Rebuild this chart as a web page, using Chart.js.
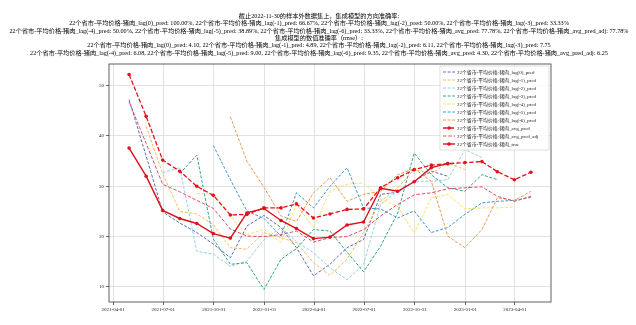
<!DOCTYPE html>
<html>
<head>
<meta charset="utf-8">
<script src="https://cdn.jsdelivr.net/npm/chart.js@4.4.0/dist/chart.umd.min.js"></script>
<style>
  html, body { margin: 0; padding: 0; background: #fff; }
  #wrap { width: 636px; height: 325px; }
</style>
</head>
<body>
<div id="wrap"><canvas id="chart" width="636" height="325"></canvas></div>
<script>
/* 22个省市-平均价格-猪肉 : lag 模型预测 vs 真实值 */

const FONT = "'Liberation Serif', 'Noto Sans CJK SC', serif";
const NAME = '22个省市-平均价格-猪肉';

// month-end dates of the sample
const dates = [
  '2021-04-30', '2021-05-31', '2021-06-30', '2021-07-31', '2021-08-31', '2021-09-30',
  '2021-10-31', '2021-11-30', '2021-12-31', '2022-01-31', '2022-02-28', '2022-03-31',
  '2022-04-30', '2022-05-31', '2022-06-30', '2022-07-31', '2022-08-31', '2022-09-30',
  '2022-10-31', '2022-11-30', '2022-12-31', '2023-01-31', '2023-02-28', '2023-03-31',
  '2023-04-30'
];

const xTickLabels = [
  '2021-04-01', '2021-07-01', '2021-10-01', '2022-01-01', '2022-04-01',
  '2022-07-01', '2022-10-01', '2023-01-01', '2023-04-01'
];
const yTicks = [10, 20, 30, 40, 50];

// each lag series starts one month later than the previous one
const lag0Pred = [47.2, 36.0, 24.9, 22.7, 20.8, 18.5, 15.8, 22.1, 24.2, 21.8, 17.8, 12.2, 14.5, 17.8, 19.4, 28.4, 28.8, 31.0, 33.0, 32.0];
const lag1Pred = [41.9, 32.5, 25.0, 24.5, 22.4, 17.8, 17.5, 20.8, 19.8, 18.8, 14.8, 12.3, 15.5, 20.8, 27.0, 29.7, 33.3, 32.5, 34.7, 33.3];
const lag2Pred = [32.7, 33.7, 17.1, 16.5, 14.1, 15.1, 19.4, 21.8, 19.0, 16.8, 13.8, 11.4, 14.5, 26.4, 29.0, 31.0, 31.0, 31.3, 37.3, 35.7];
const lag3Pred = [32.5, 36.2, 19.5, 14.5, 14.8, 9.5, 15.5, 17.6, 21.4, 21.1, 16.9, 13.0, 18.1, 24.7, 36.6, 32.3, 29.7, 29.0, 32.3, 31.3];
const lag4Pred = [28.6, 28.4, 24.1, 20.4, 21.4, 18.8, 26.4, 21.8, 29.0, 30.4, 30.7, 27.4, 26.0, 20.6, 27.7, 28.4, 25.5, 25.7, 25.7, 25.9];
const lag5Pred = [38.1, 31.3, 25.1, 23.6, 20.1, 28.7, 25.7, 30.0, 33.7, 25.7, 25.5, 23.7, 25.1, 20.8, 21.8, 24.4, 26.7, 27.0, 27.2, 27.8];
const lag6Pred = [43.8, 35.0, 29.8, 24.1, 23.0, 28.7, 31.7, 27.0, 28.4, 29.0, 32.3, 33.5, 31.0, 20.1, 17.8, 21.4, 27.7, 27.2, 29.0];
const avgPred = [52.2, 43.9, 35.2, 33.0, 30.0, 28.2, 24.3, 24.4, 25.7, 25.7, 26.5, 23.7, 24.5, 25.4, 25.5, 29.7, 31.7, 33.3, 34.2, 34.5, 34.7, 34.9, 32.9, 31.3, 32.8];
const avgPredAdj = [46.8, 38.5, 30.4, 28.9, 27.2, 25.6, 21.5, 20.1, 20.0, 20.4, 21.1, 18.9, 19.8, 20.0, 21.4, 24.1, 26.4, 28.3, 28.7, 29.5, 29.7, 29.9, 28.0, 27.0, 28.0];
const trueVals = [37.6, 32.0, 25.2, 23.6, 22.6, 20.6, 19.7, 24.7, 25.6, 23.2, 21.6, 19.6, 19.9, 22.3, 22.9, 29.6, 29.0, 30.9, 33.7, 34.5];

const titleLines = [
  '截止2022-11-30的样本外数据集上，集成模型的方向准确率:',
  NAME + '_lag(0)_pred: 100.00%, ' + NAME + '_lag(-1)_pred: 66.67%, ' + NAME + '_lag(-2)_pred: 50.00%, ' + NAME + '_lag(-3)_pred: 33.33%',
  NAME + '_lag(-4)_pred: 50.00%, ' + NAME + '_lag(-5)_pred: 38.89%, ' + NAME + '_lag(-6)_pred: 33.33%, ' + NAME + '_avg_pred: 77.78%, ' + NAME + '_avg_pred_adj: 77.78%',
  '集成模型的数值准确率（rmse）:',
  NAME + '_lag(0)_pred: 4.10, ' + NAME + '_lag(-1)_pred: 4.89, ' + NAME + '_lag(-2)_pred: 6.11, ' + NAME + '_lag(-3)_pred: 7.75',
  NAME + '_lag(-4)_pred: 6.08, ' + NAME + '_lag(-5)_pred: 9.00, ' + NAME + '_lag(-6)_pred: 9.35, ' + NAME + '_avg_pred: 4.30, ' + NAME + '_avg_pred_adj: 6.25'
];

const DAY = 86400000;
const toX = s => Date.parse(s + 'T00:00:00Z') / DAY;

function series(values, start) {
  return values.map((v, i) => ({ x: toX(dates[start + i]), y: v }));
}

function dashed(label, values, start, color) {
  return {
    label, data: series(values, start),
    borderColor: color, backgroundColor: color,
    borderWidth: 1, borderDash: [3, 1.6], pointRadius: 0, fill: false
  };
}

const datasets = [
  dashed(NAME + '_lag(0)_pred', lag0Pred, 0, '#5d6cb3'),
  dashed(NAME + '_lag(-1)_pred', lag1Pred, 1, '#f5bd5c'),
  dashed(NAME + '_lag(-2)_pred', lag2Pred, 2, '#92d0ec'),
  dashed(NAME + '_lag(-3)_pred', lag3Pred, 3, '#2fa486'),
  dashed(NAME + '_lag(-4)_pred', lag4Pred, 4, '#f6e36c'),
  dashed(NAME + '_lag(-5)_pred', lag5Pred, 5, '#3f95cf'),
  dashed(NAME + '_lag(-6)_pred', lag6Pred, 6, '#ec9752'),
  {
    label: NAME + '_avg_pred', data: series(avgPred, 0),
    borderColor: '#e3131c', backgroundColor: '#e3131c',
    borderWidth: 1.3, borderDash: [4.5, 2], pointRadius: 1.8, pointBorderWidth: 0, fill: false
  },
  {
    label: NAME + '_avg_pred_adj', data: series(avgPredAdj, 0),
    borderColor: '#e44a66', backgroundColor: '#e44a66',
    borderWidth: 1, borderDash: [3.5, 1.8], pointRadius: 0, fill: false
  },
  {
    label: NAME + '_true', data: series(trueVals, 0),
    borderColor: '#e0101b', backgroundColor: '#e0101b',
    borderWidth: 1.4, pointRadius: 1.8, pointBorderWidth: 0, fill: false
  }
];
// last plotted on top, like matplotlib
datasets.forEach((d, i) => { d.order = datasets.length - i; d.tension = 0; });

const xFirst = toX(dates[0]);
const xLast = toX(dates[dates.length - 1]);
const xPad = (xLast - xFirst) * 0.05;

const titlePlugin = {
  id: 'mplTitle',
  afterDraw(chart) {
    const ctx = chart.ctx;
    ctx.save();
    ctx.fillStyle = '#000';
    ctx.font = '6.2px ' + FONT;
    ctx.textAlign = 'center';
    ctx.textBaseline = 'middle';
    titleLines.forEach((line, i) => ctx.fillText(line, 319, 16.5 + i * 7.3));
    ctx.restore();
  }
};

const framePlugin = {
  id: 'frame',
  afterDatasetsDraw(chart) {
    const a = chart.chartArea;
    const ctx = chart.ctx;
    ctx.save();
    ctx.strokeStyle = '#3a3a3a';
    ctx.lineWidth = 0.8;
    ctx.strokeRect(a.left, a.top, a.right - a.left, a.bottom - a.top);
    ctx.restore();
  }
};

const legendPlugin = {
  id: 'insideLegend',
  afterDraw(chart) {
    const ctx = chart.ctx;
    const a = chart.chartArea;
    const sets = chart.data.datasets;
    const rowH = 8;
    const w = 109;
    const x0 = a.right - w - 2;
    const y0 = a.top + 2;
    const h = sets.length * rowH + 4;
    ctx.save();
    ctx.fillStyle = 'rgba(255,255,255,0.85)';
    ctx.strokeStyle = '#d0d0d0';
    ctx.lineWidth = 0.7;
    ctx.fillRect(x0, y0, w, h);
    ctx.strokeRect(x0, y0, w, h);
    ctx.font = '4.9px ' + FONT;
    ctx.textBaseline = 'middle';
    sets.forEach((d, i) => {
      const y = y0 + 6 + i * rowH;
      ctx.strokeStyle = d.borderColor;
      ctx.lineWidth = d.borderWidth;
      ctx.setLineDash(d.borderDash || []);
      ctx.beginPath();
      ctx.moveTo(x0 + 3, y);
      ctx.lineTo(x0 + 15, y);
      ctx.stroke();
      ctx.setLineDash([]);
      if (d.pointRadius) {
        ctx.fillStyle = d.borderColor;
        ctx.beginPath();
        ctx.arc(x0 + 9, y, d.pointRadius, 0, Math.PI * 2);
        ctx.fill();
      }
      ctx.fillStyle = '#222';
      ctx.fillText(d.label, x0 + 17, y + 0.3);
    });
    ctx.restore();
  }
};

const chart = new Chart(document.getElementById('chart'), {
  type: 'line',
  data: { datasets },
  options: {
    responsive: false,
    animation: false,
    devicePixelRatio: 1,
    layout: { padding: { left: 91, right: 85, top: 64, bottom: 7 } },
    plugins: {
      legend: { display: false },
      title: { display: false },
      tooltip: { enabled: false }
    },
    scales: {
      x: {
        type: 'linear',
        min: xFirst - xPad,
        max: xLast + xPad,
        afterBuildTicks: s => { s.ticks = xTickLabels.map(t => ({ value: toX(t) })); },
        afterFit: s => { s.height = 16; },
        ticks: {
          color: '#222',
          font: { family: FONT, size: 5 },
          maxRotation: 0,
          autoSkip: false,
          padding: 2,
          callback: (v, i) => xTickLabels[i]
        },
        grid: { color: '#dadada', lineWidth: 0.8, tickColor: '#444', tickLength: 3 },
        border: { display: false }
      },
      y: {
        min: 7.0,
        max: 54.3,
        afterBuildTicks: s => { s.ticks = yTicks.map(v => ({ value: v })); },
        afterFit: s => { s.width = 18; },
        ticks: {
          color: '#222',
          font: { family: FONT, size: 5 },
          padding: 2,
          callback: v => String(v)
        },
        grid: { color: '#dadada', lineWidth: 0.8, tickColor: '#444', tickLength: 3 },
        border: { display: false }
      }
    }
  },
  plugins: [titlePlugin, framePlugin, legendPlugin]
});
</script>
</body>
</html>
